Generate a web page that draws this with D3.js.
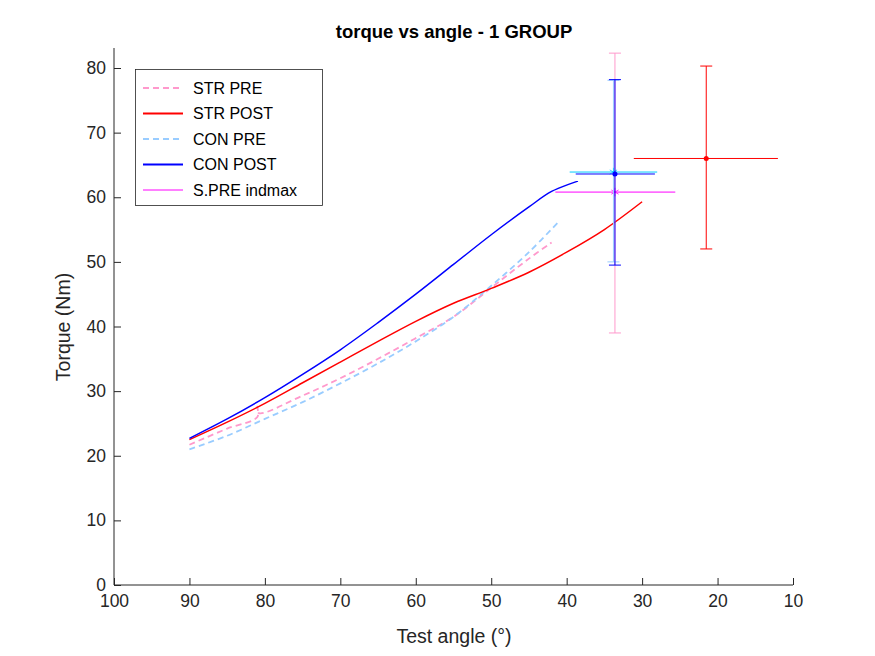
<!DOCTYPE html>
<html><head><meta charset="utf-8">
<script src="https://cdn.jsdelivr.net/npm/d3@7"></script>
<style>body{margin:0;background:#fff}svg{font-family:"Liberation Sans",Arial,sans-serif}</style>
</head><body><svg id="c" width="875" height="656"></svg>
<script>
const strPre = [[90,21.7],[85,24.2],[81,26.0],[81,27.6],[80.8,26.6],[75,29.3],[70,32.0],[65,35.0],[60,38.2],[55,41.5],[50,46.0],[45,50.5],[42,53.0]];
const strPost = [[90,22.5],[85,25.2],[80,28.1],[75,31.3],[70,34.5],[65,37.7],[60,40.8],[55,43.6],[50,45.9],[45,48.4],[40,51.5],[35,55.0],[30,59.3]];
const conPre = [[90,21.0],[85,23.1],[80,25.7],[75,28.3],[70,31.2],[65,34.3],[60,37.7],[55,41.5],[50,46.3],[45,51.5],[41,56.3]];
const conPost = [[90,22.7],[85,25.7],[80,29.0],[75,32.6],[70,36.4],[65,40.6],[60,45.0],[55,49.6],[50,54.2],[45,58.5],[42,60.9],[38.5,62.5]];
// error bars: x, y centre and ranges
const errBars = [
  {x:33.6, y:60.8, xl:41.5, xh:25.6, yl:39.0, yh:82.3, cv:'#ff99cc', ch:'#ff00ff', mk:'star', mc:'#ff00ff'},
  {x:33.8, y:63.9, xl:39.6, xh:28.0, yl:50.0, yh:78.1, cv:'#99ccff', ch:'#00ccff', mk:'star', mc:'#00ccff'},
  {x:33.6, y:63.6, xl:38.8, xh:28.3, yl:49.5, yh:78.2, cv:'#0000ff', ch:'#0000ff', mk:'dot', mc:'#0000ff'},
  {x:21.5, y:66.0, xl:31.1, xh:12.0, yl:52.0, yh:80.3, cv:'#ff0000', ch:'#ff0000', mk:'dot', mc:'#ff0000'}
];
const xTicks = [100,90,80,70,60,50,40,30,20,10];
const yTicks = [0,10,20,30,40,50,60,70,80];
const legendItems = [
  {name:'STR PRE', color:'#ff99cc', dash:'6,4', w:2},
  {name:'STR POST', color:'#ff0000', dash:null, w:2},
  {name:'CON PRE', color:'#99ccff', dash:'6,4', w:2},
  {name:'CON POST', color:'#0000ff', dash:null, w:2},
  {name:'S.PRE indmax', color:'#ff00ff', dash:null, w:1}
];

const svg = d3.select('#c');
const x = d3.scaleLinear().domain([100,10]).range([114,793]);
const y = d3.scaleLinear().domain([0,80]).range([585,68]);
const tc = '#262626';

const xa = svg.append('g').attr('transform','translate(0,585)')
  .call(d3.axisBottom(x).tickValues(xTicks).tickSize(-7).tickPadding(10));
const ya = svg.append('g').attr('transform','translate(114,0)')
  .call(d3.axisLeft(y).tickValues(yTicks).tickSize(-7).tickPadding(8));
[xa,ya].forEach(a=>{
  a.select('.domain').attr('stroke',tc);
  a.selectAll('line').attr('stroke',tc);
  a.selectAll('text').attr('fill',tc).style('font-size','17.5px').style('font-family','"Liberation Sans",Arial,sans-serif');
});
ya.select('.domain').attr('d','M0,585V48');
xa.select('.domain').attr('d','M114,0H793');

const line = d3.line().x(d=>x(d[0])).y(d=>y(d[1])).curve(d3.curveCatmullRom);
const series = [[strPre,'#ff99cc','6,4'],[conPre,'#99ccff','6,4'],[strPost,'#ff0000',null],[conPost,'#0000ff',null]];
series.forEach(([d,c,da])=>{
  svg.append('path').datum(d).attr('d',line).attr('fill','none').attr('stroke',c)
    .attr('stroke-width',da?1.8:1.5).attr('stroke-dasharray',da);
});

errBars.forEach(e=>{
  const g = svg.append('g');
  g.append('line').attr('x1',x(e.x)).attr('x2',x(e.x)).attr('y1',y(e.yl)).attr('y2',y(e.yh)).attr('stroke',e.cv);
  [e.yl,e.yh].forEach(v=>g.append('line').attr('x1',x(e.x)-6).attr('x2',x(e.x)+6).attr('y1',y(v)).attr('y2',y(v)).attr('stroke',e.cv));
  g.append('line').attr('x1',x(e.xl)).attr('x2',x(e.xh)).attr('y1',y(e.y)).attr('y2',y(e.y)).attr('stroke',e.ch);
  if (e.mk==='dot') g.append('circle').attr('cx',x(e.x)).attr('cy',y(e.y)).attr('r',2.5).attr('fill',e.mc);
  else g.append('path').attr('transform',`translate(${x(e.x)},${y(e.y)})`)
    .attr('d',d3.symbol(d3.symbolAsterisk,50)()).attr('fill','none').attr('stroke',e.mc).attr('stroke-width',0.8);
});

svg.append('text').attr('x',454).attr('y',38).attr('text-anchor','middle')
  .style('font-size','18.5px').style('font-weight','bold').attr('fill','#000').text('torque vs angle - 1 GROUP');
svg.append('text').attr('x',454).attr('y',643).attr('text-anchor','middle')
  .style('font-size','19.5px').attr('fill',tc).text('Test angle (°)');
svg.append('text').attr('transform','translate(70,327) rotate(-90)').attr('text-anchor','middle')
  .style('font-size','19.5px').attr('fill',tc).text('Torque (Nm)');

const lg = svg.append('g');
lg.append('rect').attr('x',135.5).attr('y',69.5).attr('width',187).attr('height',136).attr('fill','#fff').attr('stroke',tc).attr('stroke-width',0.8);
legendItems.forEach((it,i)=>{
  const yy = 88 + i*25.5;
  lg.append('line').attr('x1',143).attr('x2',183).attr('y1',yy).attr('y2',yy)
    .attr('stroke',it.color).attr('stroke-width',it.w).attr('stroke-dasharray',it.dash);
  lg.append('text').attr('x',193).attr('y',yy+5.5).style('font-size','16px').attr('fill','#000').text(it.name);
});
</script></body></html>
